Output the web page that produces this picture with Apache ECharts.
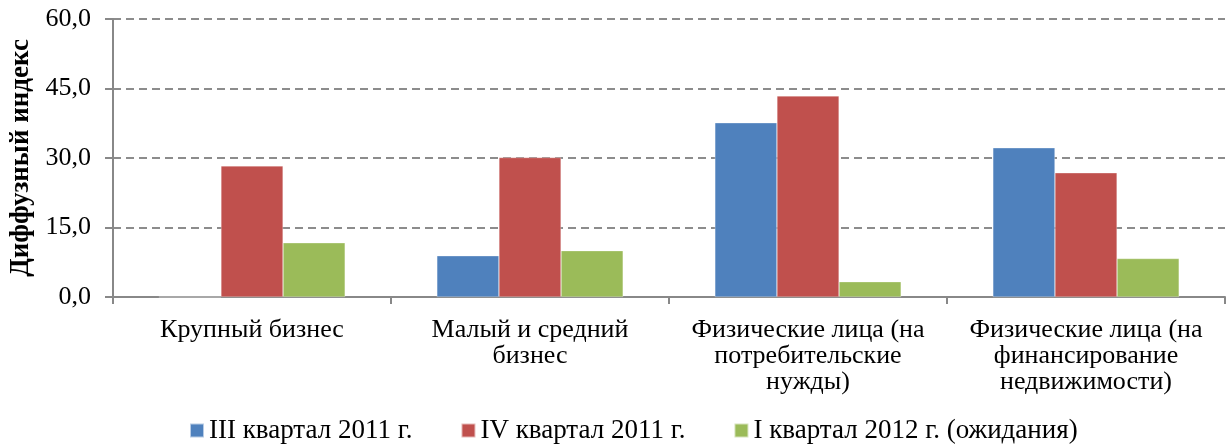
<!DOCTYPE html>
<html><head><meta charset="utf-8">
<script src="https://cdn.jsdelivr.net/npm/echarts@6/dist/echarts.min.js"></script>
<style>html,body{margin:0;padding:0;background:#fff}#c{width:1231px;height:447px}</style>
</head><body><div id="c"></div>
<script>
const categories = ["Крупный бизнес", "Малый и средний\nбизнес", "Физические лица (на\nпотребительские\nнужды)", "Физические лица (на\nфинансирование\nнедвижимости)"];
const seriesNames = ["III квартал 2011 г.", "IV квартал 2011 г.", "I квартал 2012 г. (ожидания)"];
const q3_2011 = [0, 8.9, 37.6, 32.2];
const q4_2011 = [28.3, 30.1, 43.4, 26.8];
const q1_2012 = [11.7, 10.0, 3.3, 8.3];
const colors = ["#4F81BD", "#C0504D", "#9BBB59"];
const font = "'Liberation Serif', 'Times New Roman', serif";

const chart = echarts.init(document.getElementById('c'));
const mk = (name, data, color) => ({
  name, type: 'bar', data, barGap: '0%', barCategoryGap: '33%',
  itemStyle: { color, borderColor: 'rgba(255,255,255,0.6)', borderWidth: 0.5 }
});
chart.setOption({
  animation: false,
  textStyle: { fontFamily: font },
  grid: { left: 113, right: 6, top: 19, bottom: 150, containLabel: false, outerBoundsMode: 'none' },
  legend: {
    top: 412, left: 184, itemWidth: 14, itemHeight: 14, itemGap: 48,
    icon: 'rect',
    textStyle: { fontFamily: font, fontSize: 27, color: '#000' },
    data: seriesNames
  },
  xAxis: {
    type: 'category', data: categories,
    axisLine: { lineStyle: { color: '#888', width: 2 } },
    axisTick: { show: true, length: 7, lineStyle: { color: '#888', width: 2 } },
    axisLabel: { fontFamily: font, fontSize: 26, color: '#000', margin: 20, lineHeight: 26, interval: 0 }
  },
  yAxis: {
    type: 'value', min: 0, max: 60, interval: 15,
    name: 'Диффузный индекс', nameLocation: 'middle', nameGap: 78, nameRotate: 90,
    nameTextStyle: { fontFamily: font, fontSize: 27, fontWeight: 'bold', color: '#000' },
    axisLine: { show: true, lineStyle: { color: '#888', width: 2 } },
    axisTick: { show: true, length: 8, lineStyle: { color: '#888', width: 2 } },
    axisLabel: { fontFamily: font, fontSize: 26, color: '#000', margin: 22,
      formatter: v => v.toFixed(1).replace('.', ',') },
    splitLine: { show: true, lineStyle: { color: '#8c8c8c', width: 2, type: [8, 5] } }
  },
  series: [mk(seriesNames[0], q3_2011, colors[0]), mk(seriesNames[1], q4_2011, colors[1]), mk(seriesNames[2], q1_2012, colors[2])]
});
</script></body></html>
